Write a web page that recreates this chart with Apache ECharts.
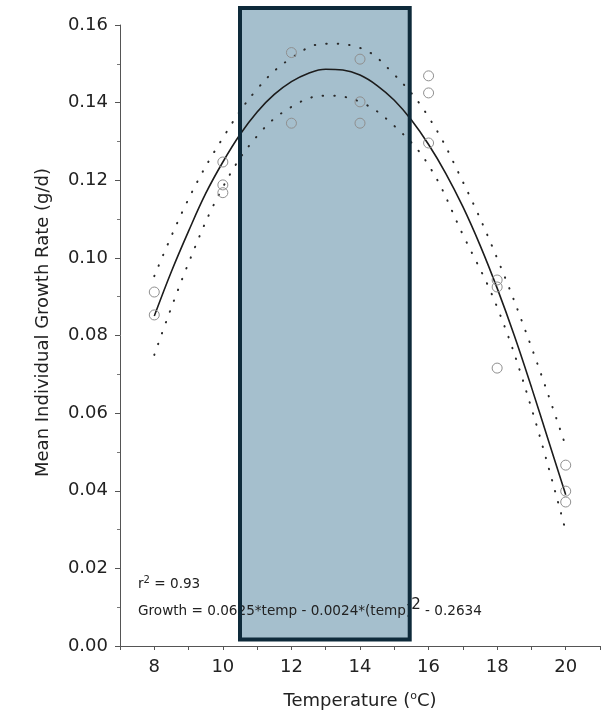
<!DOCTYPE html>
<html>
<head>
<meta charset="utf-8">
<script src="https://cdn.jsdelivr.net/npm/echarts@6/dist/echarts.min.js"></script>
<style>
  html, body { margin: 0; padding: 0; background: #ffffff; }
  #chart { width: 616px; height: 713px; }
</style>
</head>
<body>
<div id="chart"></div>
<script>
// ---- data ----
const fitTemps     = [8, 8.5, 9, 9.5, 10, 10.5, 11, 11.5, 12, 12.5, 13, 13.5, 14, 14.5, 15, 15.5, 16, 16.5, 17, 17.5, 18, 18.5, 19, 19.5, 20];
const fitGrowth    = [0.0850, 0.0965, 0.1069, 0.1166, 0.1247, 0.1318, 0.1376, 0.1421, 0.1454, 0.1476, 0.1486, 0.1484, 0.1471, 0.1444, 0.1406, 0.1355, 0.1292, 0.1218, 0.1132, 0.1033, 0.0922, 0.0800, 0.0667, 0.0528, 0.0390];

const ciTemps      = [8, 9, 10, 11, 12, 13, 14, 15, 16, 17, 18, 19, 20];
const upperCI      = [0.0953, 0.1152, 0.1309, 0.1435, 0.1515, 0.1552, 0.1541, 0.1472, 0.1363, 0.1196, 0.0999, 0.0770, 0.0515];
const lowerCI      = [0.0750, 0.0987, 0.1182, 0.1314, 0.1389, 0.1418, 0.1402, 0.1340, 0.1239, 0.1060, 0.0873, 0.0613, 0.0296];

const obsTemp      = [8, 8, 10, 10, 10, 12, 12, 14, 14, 14, 16, 16, 16, 18, 18, 18, 20, 20, 20];
const obsGrowth    = [0.0912, 0.0853, 0.1247, 0.1188, 0.1168, 0.1529, 0.1347, 0.1512, 0.1402, 0.1347,
                      0.1469, 0.1425, 0.1296, 0.0943, 0.0925, 0.0716, 0.0466, 0.0399, 0.0371];

const highlightTemp   = [10.5, 15.45];   // shaded temperature band
const highlightGrowth = [0.0017, 0.1644];

const xTickLabels = [8, 10, 12, 14, 16, 18, 20];
const rSquaredText = '0.93';
const equationParts = ['Growth = 0.0625*temp - 0.0024*(temp)', '2', ' - 0.2634'];

// ---- chart ----
const FONT = 'DejaVu Sans';
const chart = echarts.init(document.getElementById('chart'), null, { renderer: 'canvas' });

const pairs = (xs, ys) => xs.map((x, i) => [x, ys[i]]);
const rectData = [[highlightTemp[0], highlightTemp[1], highlightGrowth[0], highlightGrowth[1]]];

function rectItem(fill, stroke, lw) {
  return function (params, api) {
    const p0 = api.coord([api.value(0), api.value(3)]);
    const p1 = api.coord([api.value(1), api.value(2)]);
    return {
      type: 'rect',
      shape: { x: p0[0], y: p0[1], width: p1[0] - p0[0], height: p1[1] - p0[1] },
      style: { fill: fill, stroke: stroke, lineWidth: lw }
    };
  };
}

const dotted = { color: '#2a2a2a', width: 2, type: [0.5, 11], cap: 'round' };

chart.setOption({
  animation: false,
  backgroundColor: '#ffffff',
  textStyle: { fontFamily: FONT },
  grid: { left: 120, right: 16, top: 25, bottom: 67, containLabel: false, outerBoundsMode: 'none' },
  xAxis: {
    type: 'value', min: 7, max: 21, interval: 1,
    name: 'Temperature ({s|o}C)',
    nameLocation: 'middle', nameGap: 45,
    nameTextStyle: { fontFamily: FONT, fontSize: 18, color: '#222',
      rich: { s: { fontSize: 11, padding: [0, 0, 9, 0], fontFamily: FONT, color: '#222' } } },
    axisLine: { show: true, lineStyle: { color: '#555', width: 1 } },
    axisTick: { show: true, length: 4, lineStyle: { color: '#555' } },
    axisLabel: {
      fontFamily: FONT, fontSize: 18, color: '#222', margin: 12,
      formatter: v => (xTickLabels.indexOf(v) >= 0 ? String(v) : '')
    },
    splitLine: { show: false }
  },
  yAxis: {
    type: 'value', min: 0, max: 0.16, interval: 0.02,
    name: 'Mean Individual Growth Rate (g/d)',
    nameLocation: 'middle', nameGap: 68,
    nameTextStyle: { fontFamily: FONT, fontSize: 18, color: '#222', padding: [0, 0, 0, 26] },
    axisLine: { show: true, lineStyle: { color: '#555', width: 1 } },
    axisTick: { show: true, length: 5, lineStyle: { color: '#555' } },
    minorTick: { show: true, splitNumber: 2, length: 3, lineStyle: { color: '#777' } },
    axisLabel: { fontFamily: FONT, fontSize: 18, color: '#222', margin: 12,
      formatter: v => v.toFixed(2) },
    splitLine: { show: false }
  },
  graphic: [
    {
      type: 'text', left: 138, top: 575, z: 5,
      style: {
        text: '{a|r}{s|2}{a| = ' + rSquaredText + '}',
        rich: {
          a: { fontFamily: FONT, fontSize: 13.6, fill: '#222' },
          s: { fontFamily: FONT, fontSize: 10, fill: '#222', padding: [0, 0, 8, 0] }
        }
      }
    },
    {
      type: 'text', left: 138, top: 598, z: 5,
      style: {
        text: '{a|' + equationParts[0] + '}{s|' + equationParts[1] + '}{a|' + equationParts[2] + '}',
        rich: {
          a: { fontFamily: FONT, fontSize: 13.6, fill: '#222' },
          s: { fontFamily: FONT, fontSize: 15, fill: '#222', padding: [0, 0, 12, 0] }
        }
      }
    }
  ],
  series: [
    {
      type: 'custom', name: 'bandFill', z: 1, clip: false, silent: true,
      encode: { x: [0, 1], y: [2, 3] },
      data: rectData,
      renderItem: rectItem('#a5bfcd', null, 0)
    },
    {
      type: 'line', name: 'upper', z: 3, smooth: 0.4, showSymbol: false, symbol: 'none',
      data: pairs(ciTemps, upperCI), lineStyle: dotted
    },
    {
      type: 'line', name: 'lower', z: 3, smooth: 0.4, showSymbol: false, symbol: 'none',
      data: pairs(ciTemps, lowerCI), lineStyle: dotted
    },
    {
      type: 'line', name: 'fit', z: 3, smooth: 0.4, showSymbol: false, symbol: 'none',
      data: pairs(fitTemps, fitGrowth), lineStyle: { color: '#1c1c1c', width: 1.6 }
    },
    {
      type: 'scatter', name: 'observed', z: 4,
      symbol: 'circle', symbolSize: 10,
      itemStyle: { color: 'rgba(0,0,0,0)', borderColor: '#8f8f8f', borderWidth: 1, opacity: 1 },
      data: pairs(obsTemp, obsGrowth)
    },
    {
      type: 'custom', name: 'bandBorder', z: 10, clip: false, silent: true,
      encode: { x: [0, 1], y: [2, 3] },
      data: rectData,
      renderItem: rectItem('none', '#0e2a3a', 4)
    }
  ]
});
</script>
</body>
</html>
